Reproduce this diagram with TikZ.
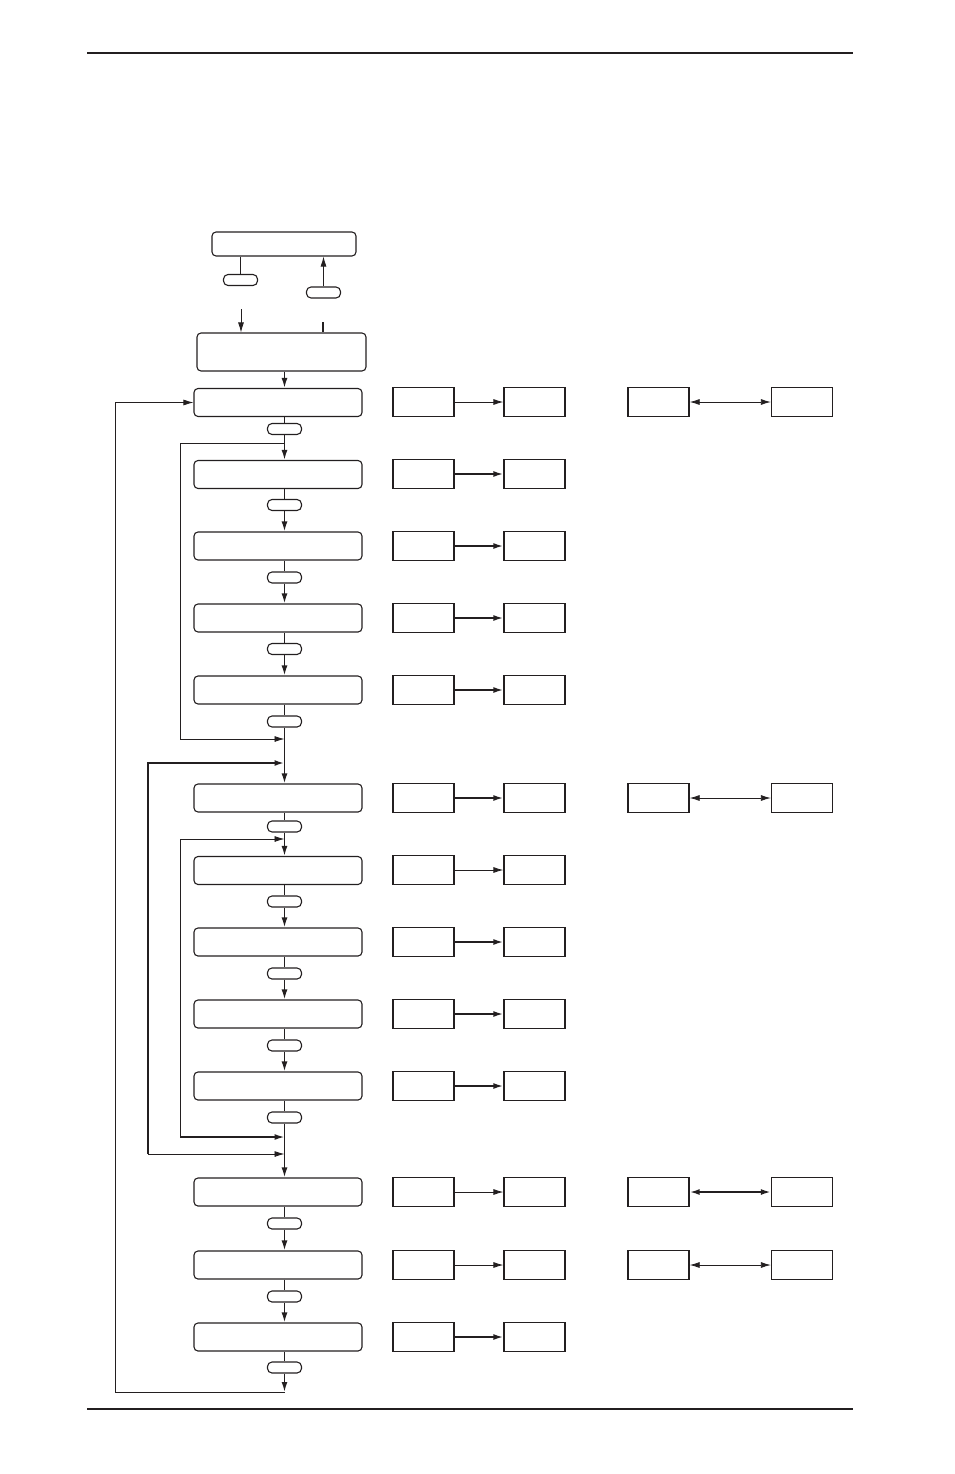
\documentclass[tikz,border=0pt]{standalone}
\usetikzlibrary{arrows.meta,calc}
\definecolor{ink}{HTML}{231F20}
\begin{document}
\begin{tikzpicture}[x=1pt,y=-1pt,color=ink,
  mainbox/.style={draw=ink,rounded corners=4pt,minimum width=168pt,minimum height=28pt,line width=1.1pt,inner sep=0pt},
  keyoval/.style={draw=ink,rounded corners=4.5pt,minimum width=34pt,minimum height=11pt,line width=1.1pt,inner sep=0pt},
  sidebox/.style={draw=ink,minimum width=61pt,minimum height=29pt,line width=1.3pt,inner sep=0pt},
  tip/.style={-{Latex[length=10pt,width=6pt]}},
  dtip/.style={{Latex[length=10pt,width=6pt]}-{Latex[length=10pt,width=6pt]}},
  thinl/.style={line width=0.8pt},
  thickl/.style={line width=1.8pt},
  spine/.style={line width=1.6pt}]
\useasboundingbox (0,0) rectangle (954,1474);
% page rules
\draw[line width=1.2pt] (87,53) -- (853,53);
\draw[line width=1.2pt] (87,1409) -- (853,1409);
% top part
\node[mainbox,minimum width=144pt,minimum height=24pt] (t0) at (284,244) {};
\node[keyoval] (ta) at (240.5,280) {};
\node[keyoval] (tb) at (323.5,292.5) {};
\node[mainbox,minimum width=169pt,minimum height=38pt] (t1) at (281.5,352) {};
\coordinate (ain) at (241,309);
\coordinate (aout) at (323,322);
\draw[thinl] (ta.north |- t0.south) -- (ta.north);
\draw[thinl,tip] (tb.north) -- (tb.north |- t0.south);
\draw[thinl,tip] (ain) -- (ain |- t1.north);
\draw[line width=1.4pt] (aout) -- (aout |- t1.north);
% main column
\foreach \n/\y in {1/402.5,2/474.5,3/546,4/618,5/690,6/798,7/870.5,8/942,9/1014,10/1086,11/1192,12/1265,13/1337}{
  \node[mainbox] (m\n) at (278,\y) {};
}
\foreach \n/\y in {1/429,2/505,3/577.5,4/649,5/721.5,6/826.5,7/901.5,8/973.5,9/1045.5,10/1117.5,11/1223.5,12/1296.5,13/1367.5}{
  \node[keyoval] (o\n) at (284.5,\y) {};
}
\draw[spine,tip] (t1.south -| o1) -- (o1 |- m1.north);
\foreach \a/\b in {1/2,2/3,3/4,4/5,5/6,6/7,7/8,8/9,9/10,10/11,11/12,12/13}{
  \draw[spine] (m\a.south -| o\a) -- (o\a.north);
  \draw[spine,tip] (o\a.south) -- (o\a |- m\b.north);
}
\draw[spine] (m13.south -| o13) -- (o13.north);
\coordinate (bend) at (284.5,1392);
\draw[spine,tip] (o13.south) -- (bend);
% loops
\coordinate (l1a) at (180,443);
\coordinate (l1b) at (180,739);
\draw[thinl,tip] (o1 |- l1a) -- (l1a) -- (l1b) -- (o1 |- l1b);
\coordinate (l2a) at (148,763);
\coordinate (l2b) at (148,1154);
\draw[line width=2pt,{Latex[length=10pt,width=6pt]}-] (o1 |- l2a) -- (l2a) -- (l2b);
\draw[thinl,tip] (l2b) -- (o1 |- l2b);
\coordinate (l3a) at (180,839);
\coordinate (l3b) at (180,1137);
\draw[thinl,{Latex[length=10pt,width=6pt]}-] (o1 |- l3a) -- (l3a) -- (l3b);
\draw[line width=1.6pt,tip] (l3b) -- (o1 |- l3b);
\coordinate (l4a) at (115,1392);
\draw[thinl,tip] (bend) -- (l4a) -- (l4a |- m1.west) -- (m1.west);
% side boxes
\foreach \n/\y/\w in {1/402/thinl,2/474/thickl,3/546/thickl,4/618/thickl,5/690/thickl,6/798/thickl,7/870/thinl,8/942/thickl,9/1014/thickl,10/1086/thickl,11/1192/thinl,12/1265/thinl,13/1337/thickl}{
  \node[sidebox] (a\n) at (423.5,\y) {};
  \node[sidebox] (b\n) at (534.5,\y) {};
  \draw[\w,tip] (a\n.east) -- (b\n.west);
}
\foreach \n/\y/\w in {1/402/thinl,6/798/thinl,11/1192/thickl,12/1265/thinl}{
  \node[sidebox] (c\n) at (658.5,\y) {};
  \node[sidebox] (d\n) at (802,\y) {};
  \draw[\w,dtip] (c\n.east) -- (d\n.west);
}
\end{tikzpicture}
\end{document}
